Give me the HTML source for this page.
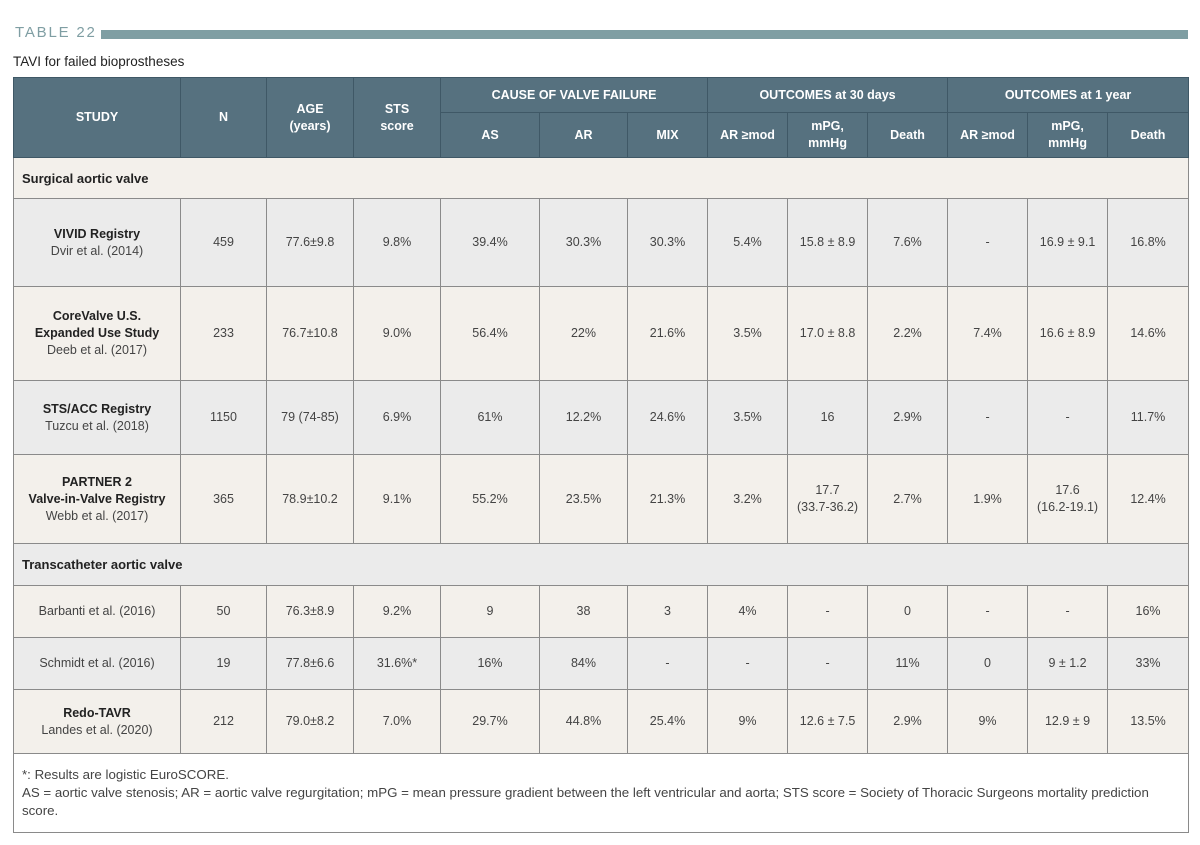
<!DOCTYPE html>
<html><head><meta charset="utf-8"><style>
body{margin:0;width:1200px;height:845px;background:#fff;font-family:"Liberation Sans",sans-serif;position:relative;overflow:hidden}
.t22{position:absolute;left:15px;top:24px;font-size:15px;letter-spacing:1.8px;color:#7f9ea3}
.bar{position:absolute;left:101px;top:30px;width:1087px;height:9px;background:#7f9ea3}
.sub{position:absolute;left:13px;top:54px;font-size:13.5px;color:#222}
table{position:absolute;left:13px;top:77px;border-collapse:collapse;table-layout:fixed;width:1175px}
td,th{border:1.5px solid #8a8a8a;text-align:center;font-size:12.5px;color:#444;padding:0;line-height:17px}
th{background:#56717f;color:#fff;font-weight:bold;border-color:#3f5866;font-size:12.5px}
.b{background:#f3f0eb}.g{background:#ebebeb}
.sec td{text-align:left;padding-left:8px;font-weight:bold;color:#222;font-size:13px}
b{color:#222}
.foot td{background:#fff;text-align:left;padding:4px 8px 0;vertical-align:top;font-size:13.3px;color:#444;line-height:18px}
</style></head><body>
<div class="t22">TABLE 22</div><div class="bar"></div>
<div class="sub">TAVI for failed bioprostheses</div>
<table>
<colgroup><col style="width:167px"><col style="width:86px"><col style="width:87px"><col style="width:87px"><col style="width:99px"><col style="width:88px"><col style="width:80px"><col style="width:80px"><col style="width:80px"><col style="width:80px"><col style="width:80px"><col style="width:80px"><col style="width:81px"></colgroup>
<tr style="height:35px"><th rowspan="2">STUDY</th><th rowspan="2">N</th><th rowspan="2">AGE<br>(years)</th><th rowspan="2">STS<br>score</th><th colspan="3">CAUSE OF VALVE FAILURE</th><th colspan="3">OUTCOMES at 30 days</th><th colspan="3">OUTCOMES at 1 year</th></tr>
<tr style="height:45px"><th>AS</th><th>AR</th><th>MIX</th><th>AR ≥mod</th><th>mPG,<br>mmHg</th><th>Death</th><th>AR ≥mod</th><th>mPG,<br>mmHg</th><th>Death</th></tr>
<tr class="sec b" style="height:41px"><td colspan="13">Surgical aortic valve</td></tr>
<tr class="g" style="height:88px"><td><b>VIVID Registry</b><br>Dvir et al. (2014)</td><td>459</td><td>77.6±9.8</td><td>9.8%</td><td>39.4%</td><td>30.3%</td><td>30.3%</td><td>5.4%</td><td>15.8 ± 8.9</td><td>7.6%</td><td>-</td><td>16.9 ± 9.1</td><td>16.8%</td></tr>
<tr class="b" style="height:94px"><td><b>CoreValve U.S.<br>Expanded Use Study</b><br>Deeb et al. (2017)</td><td>233</td><td>76.7±10.8</td><td>9.0%</td><td>56.4%</td><td>22%</td><td>21.6%</td><td>3.5%</td><td>17.0 ± 8.8</td><td>2.2%</td><td>7.4%</td><td>16.6 ± 8.9</td><td>14.6%</td></tr>
<tr class="g" style="height:74px"><td><b>STS/ACC Registry</b><br>Tuzcu et al. (2018)</td><td>1150</td><td>79 (74-85)</td><td>6.9%</td><td>61%</td><td>12.2%</td><td>24.6%</td><td>3.5%</td><td>16</td><td>2.9%</td><td>-</td><td>-</td><td>11.7%</td></tr>
<tr class="b" style="height:89px"><td><b>PARTNER 2<br>Valve-in-Valve Registry</b><br>Webb et al. (2017)</td><td>365</td><td>78.9±10.2</td><td>9.1%</td><td>55.2%</td><td>23.5%</td><td>21.3%</td><td>3.2%</td><td>17.7<br>(33.7-36.2)</td><td>2.7%</td><td>1.9%</td><td>17.6<br>(16.2-19.1)</td><td>12.4%</td></tr>
<tr class="sec g" style="height:42px"><td colspan="13">Transcatheter aortic valve</td></tr>
<tr class="b" style="height:52px"><td>Barbanti et al. (2016)</td><td>50</td><td>76.3±8.9</td><td>9.2%</td><td>9</td><td>38</td><td>3</td><td>4%</td><td>-</td><td>0</td><td>-</td><td>-</td><td>16%</td></tr>
<tr class="g" style="height:52px"><td>Schmidt et al. (2016)</td><td>19</td><td>77.8±6.6</td><td>31.6%*</td><td>16%</td><td>84%</td><td>-</td><td>-</td><td>-</td><td>11%</td><td>0</td><td>9 ± 1.2</td><td>33%</td></tr>
<tr class="b" style="height:64px"><td><b>Redo-TAVR</b><br>Landes et al. (2020)</td><td>212</td><td>79.0±8.2</td><td>7.0%</td><td>29.7%</td><td>44.8%</td><td>25.4%</td><td>9%</td><td>12.6 ± 7.5</td><td>2.9%</td><td>9%</td><td>12.9 ± 9</td><td>13.5%</td></tr>
<tr class="foot" style="height:79px"><td colspan="13" style="padding-top:12px;padding-right:20px">*: Results are logistic EuroSCORE.<br>AS = aortic valve stenosis; AR = aortic valve regurgitation; mPG = mean pressure gradient between the left ventricular and aorta; STS score = Society of Thoracic Surgeons mortality prediction score.</td></tr>
</table>
</body></html>
